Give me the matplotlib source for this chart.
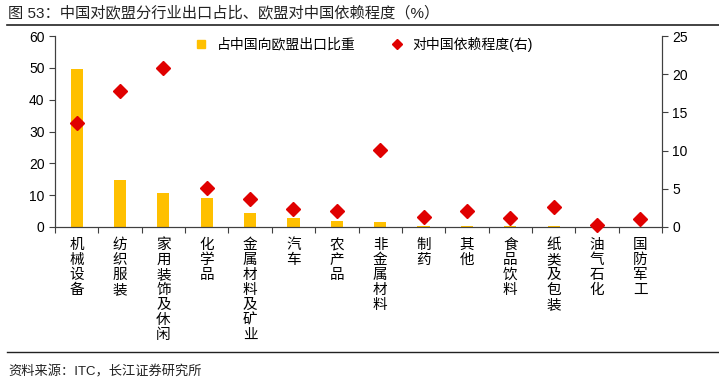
import numpy as np
import matplotlib.pyplot as plt
from matplotlib.lines import Line2D

plt.rcParams['font.family'] = ['Liberation Sans', 'Noto Sans CJK SC', 'DejaVu Sans']

categories = ['机械设备', '纺织服装', '家用装饰及休闲', '化学品', '金属材料及矿业', '汽车', '农产品',
              '非金属材料', '制药', '其他', '食品饮料', '纸类及包装', '油气石化', '国防军工']
share = [49.5, 14.7, 10.7, 9.0, 4.5, 2.9, 1.8, 1.6, 0.4, 0.4, 0.4, 0.3, 0.1, 0.05]
depend = [13.6, 17.8, 20.8, 5.1, 3.7, 2.3, 2.1, 10.1, 1.3, 2.15, 1.2, 2.6, 0.25, 1.0]

bar_c = '#FFC000'
dia_c = '#E00000'

fig = plt.figure(figsize=(7.19, 3.85), dpi=100)
ax = fig.add_axes([55/719, 1-227/385, 607/719, 191/385])
x = np.arange(len(categories))
ax.bar(x, share, width=0.28, color=bar_c, zorder=2)
ax.set_ylim(0, 60)
ax.set_yticks(range(0, 61, 10))
ax.set_xlim(-0.5, len(categories)-0.5)

ax2 = ax.twinx()
ax2.plot(x, depend, ls='none', marker='D', markersize=7.5, color=dia_c, zorder=3, clip_on=False)
ax2.set_ylim(0, 25)
ax2.set_yticks(range(0, 26, 5))

for a in (ax, ax2):
    a.spines['top'].set_visible(False)
    for s in a.spines.values():
        s.set_color('#404040')
        s.set_linewidth(0.8)
    a.tick_params(axis='y', labelsize=10, length=4, width=0.8, colors='#404040', labelcolor='black')

ax.set_xticks(np.arange(-0.5, len(categories), 1))
ax.set_xticklabels([])
ax.tick_params(axis='x', length=4, width=0.8, colors='#404040')
# vertical category labels, one character per row
for i, c in enumerate(categories):
    for j, ch in enumerate(c):
        ax.annotate(ch, xy=(i, 0), xycoords=('data', 'axes fraction'), textcoords='offset pixels',
                    xytext=(0, -18 - 15*j), ha='center', va='center', fontsize=10.5,
                    family='Noto Sans CJK SC', annotation_clip=False)

handles = [Line2D([], [], ls='none', marker='s', markersize=6, color=bar_c),
           Line2D([], [], ls='none', marker='D', markersize=5, color=dia_c)]
fig.legend(handles, ['占中国向欧盟出口比重', '对中国依赖程度(右)'], loc='center',
           bbox_to_anchor=(360/719, 1-44/385), ncol=2, frameon=False, fontsize=10,
           handletextpad=0.1, columnspacing=2.0)

fig.text(8/719, 1-13/385, '图 53：中国对欧盟分行业出口占比、欧盟对中国依赖程度（%）', fontsize=11,
         ha='left', va='center', color='#222222')
fig.add_artist(Line2D([7/719, 1], [1-25/385, 1-25/385], color='#222222', lw=1.2))
fig.add_artist(Line2D([7/719, 1], [1-352/385, 1-352/385], color='#222222', lw=1.0))
fig.text(8/719, 1-372/385, '资料来源：ITC，长江证券研究所', fontsize=9.5, ha='left', va='center',
         color='#222222')

fig.savefig('out.png', dpi=100)
